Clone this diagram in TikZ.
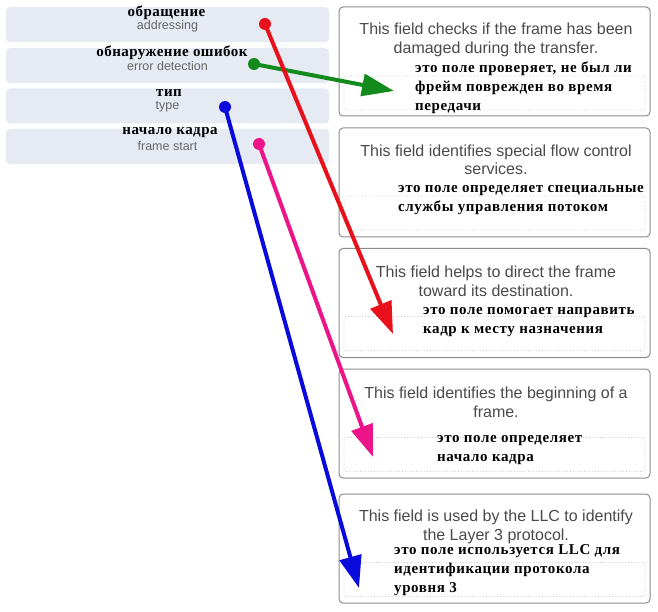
\documentclass[tikz,border=0pt]{standalone}
\usepackage{fontspec}
\setmainfont{Liberation Serif}
\newfontfamily\arialf{Liberation Sans}
\newfontfamily\rubox[LetterSpace=4]{Liberation Serif}
\newfontfamily\rulab[LetterSpace=3]{Liberation Serif}
\usetikzlibrary{arrows.meta}
\definecolor{panelc}{HTML}{E6EBF3}
\definecolor{boxc}{HTML}{8C8C8C}
\definecolor{iboxc}{HTML}{C4C8CE}
\definecolor{engrey}{HTML}{4A4A4A}
\definecolor{lgrey}{HTML}{666666}
\definecolor{cred}{HTML}{E8101A}
\definecolor{cgreen}{HTML}{128A1C}
\definecolor{cblue}{HTML}{0A0ADC}
\definecolor{cpink}{HTML}{EC1488}
\begin{document}
\begin{tikzpicture}[x=1pt,y=-1pt,
  panel/.style={fill=panelc, rounded corners=4pt, minimum width=323pt, minimum height=35pt, inner sep=0pt},
  rbox/.style={draw=boxc, line width=1pt, fill=white, rounded corners=4pt, minimum width=311pt, minimum height=109pt, inner sep=0pt},
  ibox/.style={draw=iboxc, dotted, line width=0.8pt, rounded corners=2pt, minimum width=301pt, minimum height=34pt, inner sep=0pt},
  ru/.style={font=\rubox\fontsize{15}{19}\selectfont\bfseries, align=left, inner sep=0pt, anchor=west},
  en/.style={font=\arialf\fontsize{16}{18.5}\selectfont, text=engrey, align=center, inner sep=0pt},
  lru/.style={font=\rulab\fontsize{15}{15}\selectfont\bfseries, inner sep=0pt},
  len/.style={font=\arialf\fontsize{12.5}{12.5}\selectfont, text=lgrey, inner sep=0pt},
  dot/.style={circle, inner sep=0pt, minimum size=12pt},
  arr/.style={line width=4pt, -{Triangle[length=32pt,width=22pt]}}
]
\useasboundingbox[fill=white] (0,0) rectangle (658,612);
% left panels
\node[panel] (p1) at (167.5,24.5) {};
\node[panel] (p2) at (167.5,65.5) {};
\node[panel] (p3) at (167.5,106) {};
\node[panel] (p4) at (167.5,146.5) {};
\node[lru] (l1r) at (166.5,12.5) {обращение};
\node[len] (l1e) at (167.5,26) {addressing};
\node[lru] (l2r) at (172,52.5) {обнаружение ошибок};
\node[len] (l2e) at (167.5,66) {error detection};
\node[lru] (l3r) at (169,93.5) {тип};
\node[len] (l3e) at (167.5,107) {type};
\node[lru] (l4r) at (170,132.5) {начало кадра};
\node[len] (l4e) at (167.5,146.5) {frame start};
% right boxes
\node[rbox] (b1) at (494.5,61.5) {};
\node[rbox] (b2) at (494.5,182.5) {};
\node[rbox] (b3) at (494.5,303) {};
\node[rbox] (b4) at (494.5,423.5) {};
\node[rbox] (b5) at (494.5,548.5) {};
\node[ibox] (i1) at (494.5,93) {};
\node[ibox] (i2) at (494.5,213) {};
\node[ibox] (i3) at (494.5,333.5) {};
\node[ibox] (i4) at (494.5,454.5) {};
\node[ibox] (i5) at (494.5,579.5) {};
\node[en] (e1) at (496,40) {This field checks if the frame has been\\damaged during the transfer.};
\node[en] (e2) at (496,160) {This field identifies special flow control\\services.};
\node[en] (e3) at (496,281.5) {This field helps to direct the frame\\toward its destination.};
\node[en] (e4) at (496,402.5) {This field identifies the beginning of a\\frame.};
\node[en] (e5) at (496,527) {This field is used by the LLC to identify\\the Layer 3 protocol.};
\node[ru] (r1) at (415,88) {это поле проверяет, не был ли\\фрейм поврежден во время\\передачи};
\node[ru] (r2) at (398,200) {это поле определяет специальные\\службы управления потоком};
\node[ru] (r3) at (423,322) {это поле помогает направить\\кадр к месту назначения};
\node[ru] (r4) at (437,450) {это поле определяет\\начало кадра};
\node[ru] (r5) at (394,570) {это поле используется LLC для\\идентификации протокола\\уровня 3};
% dots and arrows
\node[dot] (d1) at (265,24) {};
\node[dot] (d2) at (254,64) {};
\node[dot] (d3) at (225,107) {};
\node[dot] (d4) at (259,144) {};
\coordinate (t1) at (393,334);
\coordinate (t2) at (394,91);
\coordinate (t3) at (359,588);
\coordinate (t4) at (373,457);
\draw[arr, cgreen] (d2.center) -- (t2);
\draw[arr, cred] (d1.center) -- (t1);
\draw[arr, cblue] (d3.center) -- (t3);
\draw[arr, cpink] (d4.center) -- (t4);
\node[dot, fill=cred] at (d1) {};
\node[dot, fill=cgreen] at (d2) {};
\node[dot, fill=cblue] at (d3) {};
\node[dot, fill=cpink] at (d4) {};
\end{tikzpicture}
\end{document}
